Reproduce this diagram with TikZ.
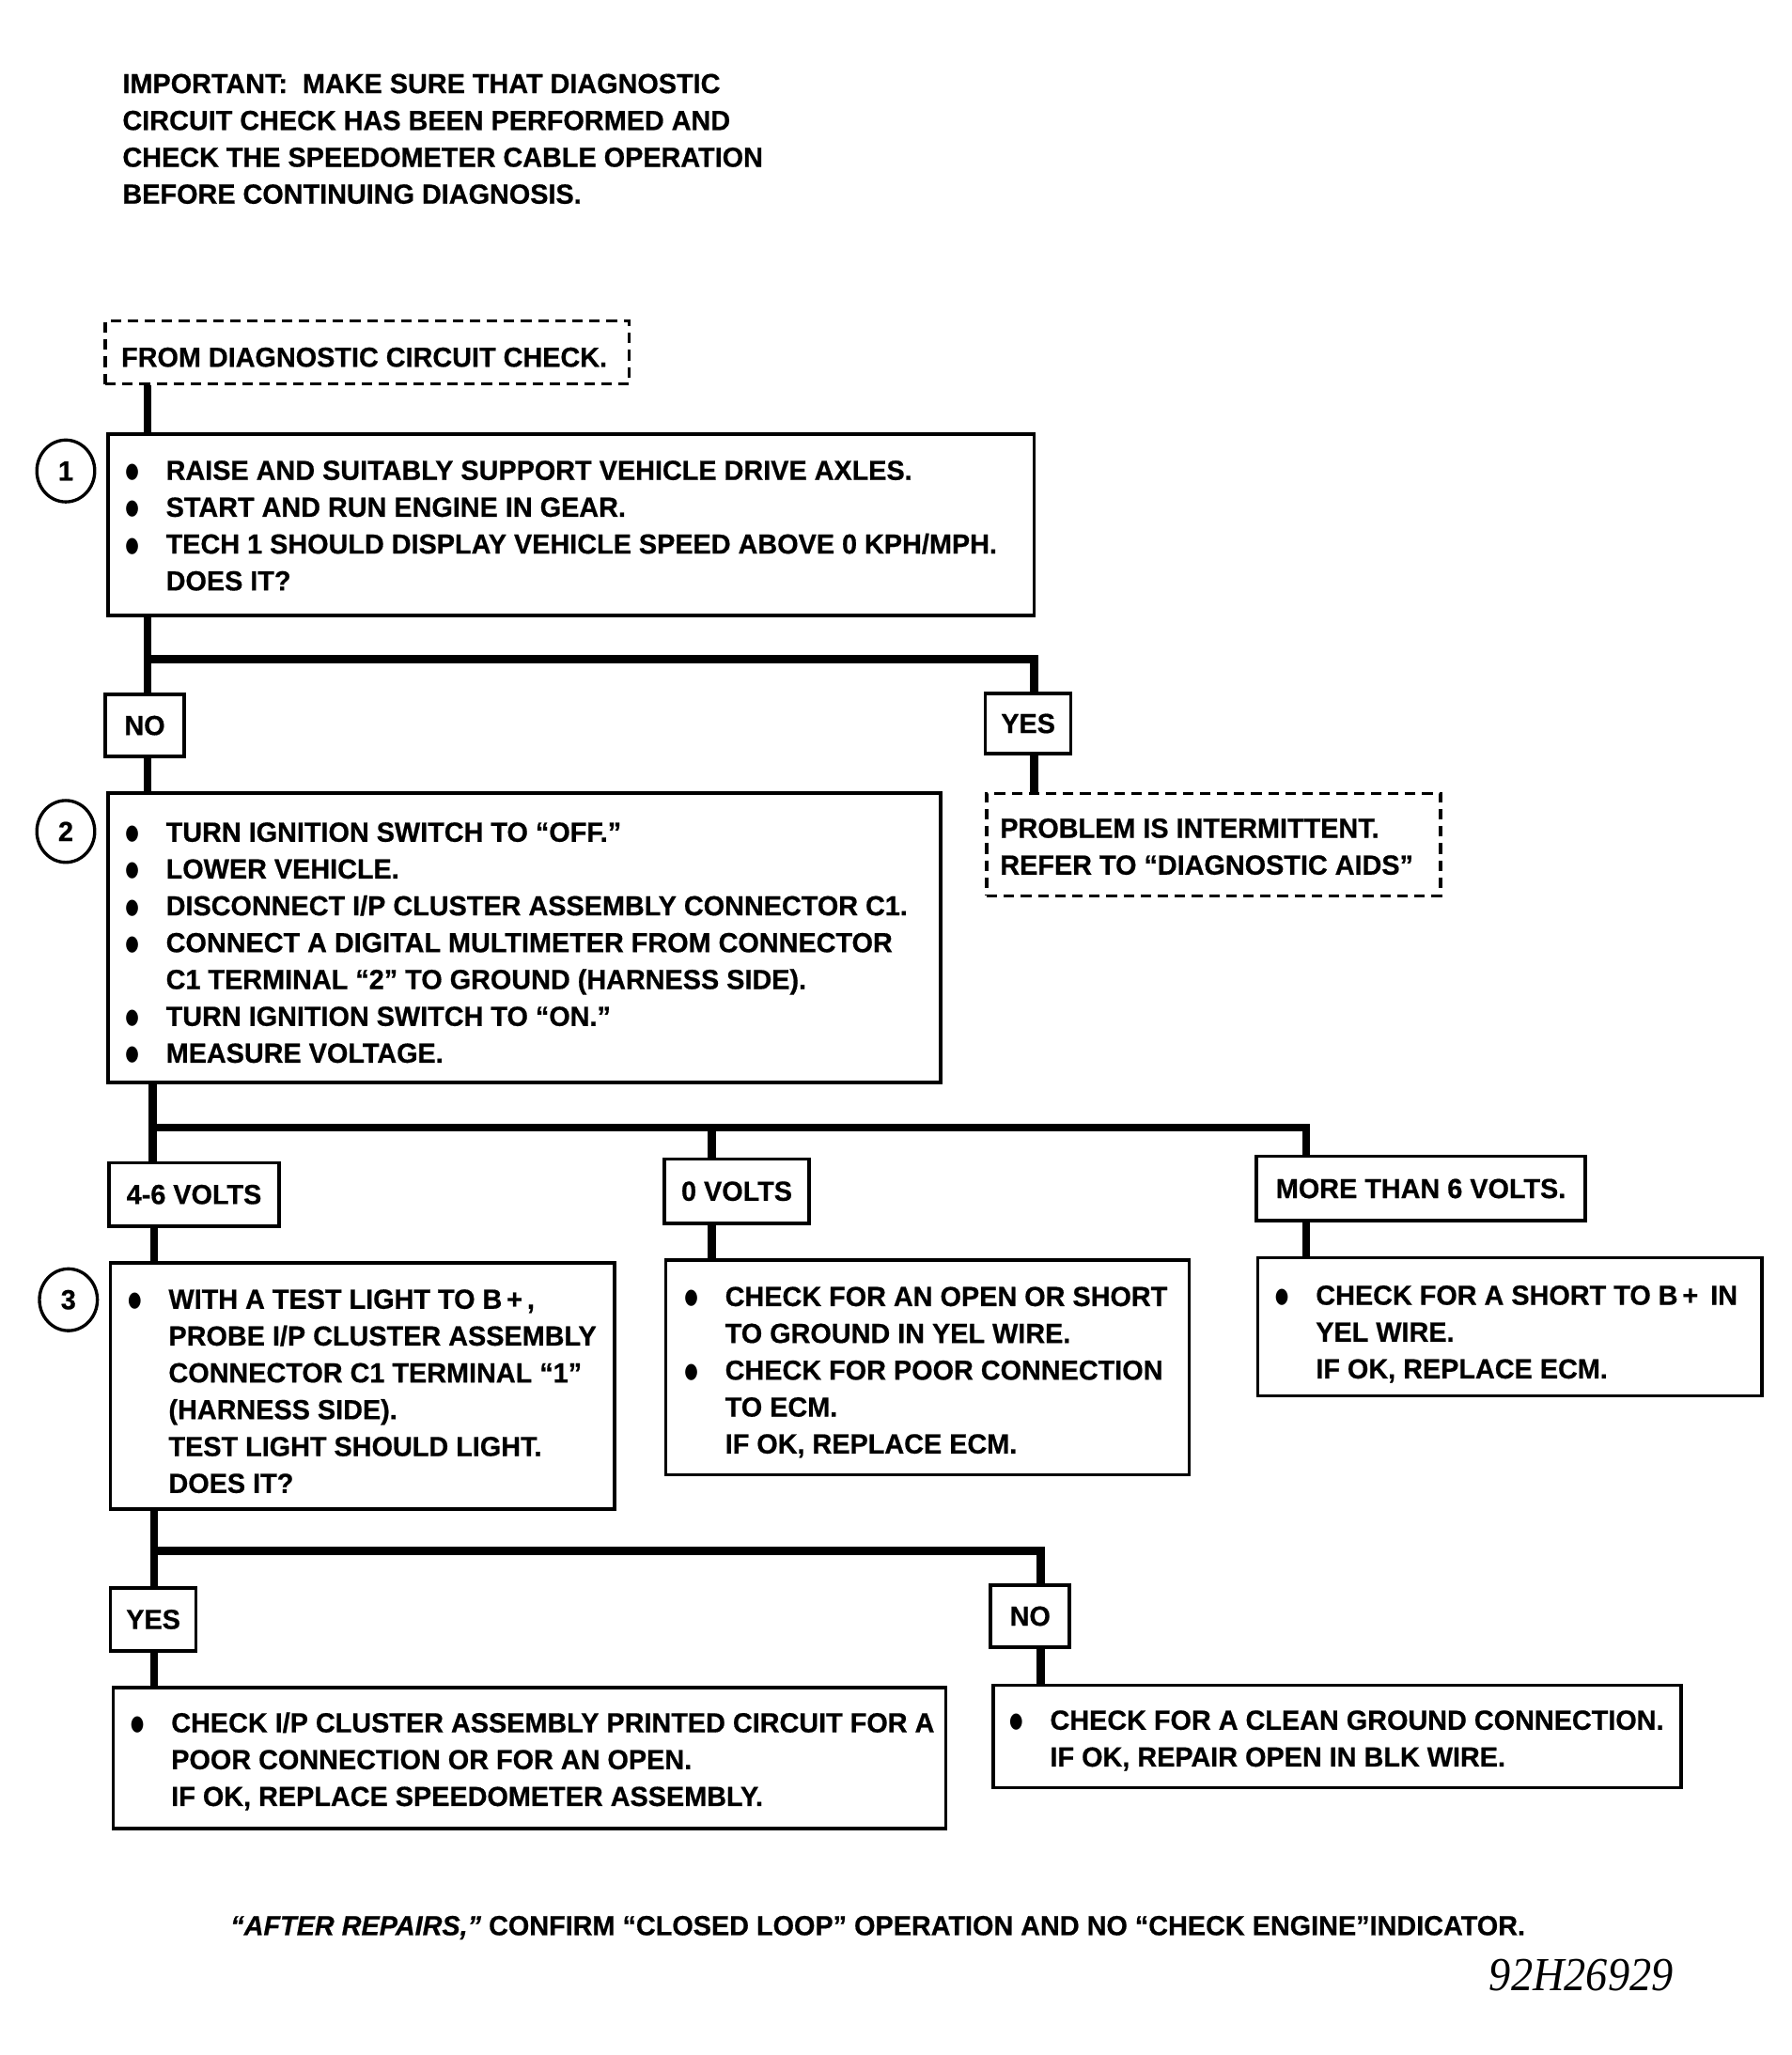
\documentclass[tikz,border=0pt]{standalone}
\usepackage{fontspec}
\usepackage{graphicx}
\setmainfont{Liberation Sans}[FakeStretch=0.98, FakeBold=0.6]
\newfontfamily\codefont{Liberation Serif}
\newfontfamily\dvfont{DejaVu Sans}
\newcommand\fs{\fontsize{21}{28}\selectfont\bfseries}
\newcommand\bul{\makebox[30pt][l]{\hspace*{-1pt}\raisebox{1.5pt}{\dvfont\fontsize{14}{14}\selectfont\scalebox{0.85}[1.15]{●}}}}
\newcommand\ind{\hspace*{30pt}}
\tikzset{
  box/.style={draw, line width=2.6, inner sep=0, font=\fs},
  dbox/.style={draw, line width=2.4, dash pattern=on 8pt off 5pt, inner sep=0, font=\fs},
  txt/.style={anchor=north west, align=left, inner sep=0, font=\fs},
  conn/.style={line width=6, line join=miter},
  num/.style={ellipse, draw, line width=2.4, minimum width=44, minimum height=47, inner sep=0, font=\fs},
}
\usetikzlibrary{shapes.geometric}
\begin{document}
\begin{tikzpicture}[x=1pt,y=-1pt]
\useasboundingbox (0,0) rectangle (1361.4,1562.1);
% top note
\node[txt] (note) at (93,51) {\strut IMPORTANT:\ \ MAKE SURE THAT DIAGNOSTIC\\CIRCUIT CHECK HAS BEEN PERFORMED AND\\CHECK THE SPEEDOMETER CABLE OPERATION\\BEFORE CONTINUING DIAGNOSIS.};
% boxes
\node[dbox, minimum width=398, minimum height=48] (from) at (279,268) {};
\node[txt] (fromt) at (92,259) {\strut FROM DIAGNOSTIC CIRCUIT CHECK.};
\node[box, minimum width=704, minimum height=138] (b1) at (434,399) {};
\node[num] (c1) at (50,358) {1};
\node[txt] (t1) at (96,345) {\strut\bul RAISE AND SUITABLY SUPPORT VEHICLE DRIVE AXLES.\\\bul START AND RUN ENGINE IN GEAR.\\\bul TECH 1 SHOULD DISPLAY VEHICLE SPEED ABOVE 0 KPH/MPH.\\\ind DOES IT?};
\node[box, minimum width=60, minimum height=47] (no1) at (110,551.5) {NO};
\node[box, minimum width=65, minimum height=46] (yes1) at (781.5,550) {YES};
\node[box, minimum width=633, minimum height=220] (b2) at (398.5,713) {};
\node[num] (c2) at (50,632) {2};
\node[txt] (t2) at (96,620) {\strut\bul TURN IGNITION SWITCH TO “OFF.”\\\bul LOWER VEHICLE.\\\bul DISCONNECT I/P CLUSTER ASSEMBLY CONNECTOR C1.\\\bul CONNECT A DIGITAL MULTIMETER FROM CONNECTOR\\\ind C1 TERMINAL “2” TO GROUND (HARNESS SIDE).\\\bul TURN IGNITION SWITCH TO “ON.”\\\bul MEASURE VOLTAGE.};
\node[dbox, minimum width=345, minimum height=78] (intm) at (922.5,642) {};
\node[txt] (intmt) at (760,617) {\strut PROBLEM IS INTERMITTENT.\\REFER TO “DIAGNOSTIC AIDS”};
\node[box, minimum width=129, minimum height=48] (v46) at (147.5,908) {4-6 VOLTS};
\node[box, minimum width=110, minimum height=49] (v0) at (560,905.5) {0 VOLTS};
\node[box, minimum width=250, minimum height=49] (v6) at (1080,903.5) {MORE THAN 6 VOLTS.};
\node[box, minimum width=383, minimum height=187] (b3) at (275.5,1053.5) {};
\node[num] (c3) at (52,988) {3};
\node[txt] (t3) at (98,975) {\strut\bul WITH A TEST LIGHT TO B\,+\,,\\\ind PROBE I/P CLUSTER ASSEMBLY\\\ind CONNECTOR C1 TERMINAL “1”\\\ind (HARNESS SIDE).\\\ind TEST LIGHT SHOULD LIGHT.\\\ind DOES IT?};
\node[box, minimum width=398, minimum height=163] (b0) at (705,1039.5) {};
\node[txt] (t0) at (521,973) {\strut\bul CHECK FOR AN OPEN OR SHORT\\\ind TO GROUND IN YEL WIRE.\\\bul CHECK FOR POOR CONNECTION\\\ind TO ECM.\\\ind IF OK, REPLACE ECM.};
\node[box, minimum width=383, minimum height=105] (b6) at (1147.5,1008.5) {};
\node[txt] (t6) at (970,972) {\strut\bul CHECK FOR A SHORT TO B\,+\, IN\\\ind YEL WIRE.\\\ind IF OK, REPLACE ECM.};
\node[box, minimum width=65, minimum height=48] (yes3) at (116.5,1231) {YES};
\node[box, minimum width=60, minimum height=47] (no3) at (783,1228.5) {NO};
\node[box, minimum width=633, minimum height=107] (bY) at (402.5,1336.5) {};
\node[txt] (tY) at (100,1297) {\strut\bul CHECK I/P CLUSTER ASSEMBLY PRINTED CIRCUIT FOR A\\\ind POOR CONNECTION OR FOR AN OPEN.\\\ind IF OK, REPLACE SPEEDOMETER ASSEMBLY.};
\node[box, minimum width=523, minimum height=78] (bN) at (1016.5,1320) {};
\node[txt] (tN) at (768,1295) {\strut\bul CHECK FOR A CLEAN GROUND CONNECTION.\\\ind IF OK, REPAIR OPEN IN BLK WIRE.};
% footer
\node[anchor=base west, inner sep=0, font=\fs] (foot) at (175,1471) {{\itshape “AFTER REPAIRS,”} CONFIRM “CLOSED LOOP” OPERATION AND NO “CHECK ENGINE”INDICATOR.};
\node[anchor=base east, inner sep=0] (code) at (1272,1513) {\scalebox{0.92}[1]{\fontsize{36}{40}\selectfont\codefont\itshape 92H26929}};
% connectors
\coordinate (j1) at (112,501); \coordinate (k1) at (786,501);
\coordinate (j2) at (116,857); \coordinate (m2) at (541,857); \coordinate (k2) at (993,857);
\coordinate (j3) at (117,1179); \coordinate (k3) at (791,1179);
\draw[conn] (from.south -| j1) -- (b1.north -| j1);
\draw[conn] (b1.south -| j1) -- (no1.north -| j1);
\draw[conn] (j1) -- (k1) -- (yes1.north -| k1);
\draw[conn] (no1.south -| j1) -- (b2.north -| j1);
\draw[conn] (yes1.south -| k1) -- (intm.north -| k1);
\draw[conn] (b2.south -| j2) -- (v46.north -| j2);
\draw[conn] (j2) -- (k2) -- (v6.north -| k2);
\draw[conn] (m2) -- (v0.north -| m2);
\draw[conn] (v46.south -| j3) -- (b3.north -| j3);
\draw[conn] (v0.south -| m2) -- (b0.north -| m2);
\draw[conn] (v6.south -| k2) -- (b6.north -| k2);
\draw[conn] (b3.south -| j3) -- (yes3.north -| j3);
\draw[conn] (j3) -- (k3) -- (no3.north -| k3);
\draw[conn] (yes3.south -| j3) -- (bY.north -| j3);
\draw[conn] (no3.south -| k3) -- (bN.north -| k3);
\end{tikzpicture}
\end{document}
